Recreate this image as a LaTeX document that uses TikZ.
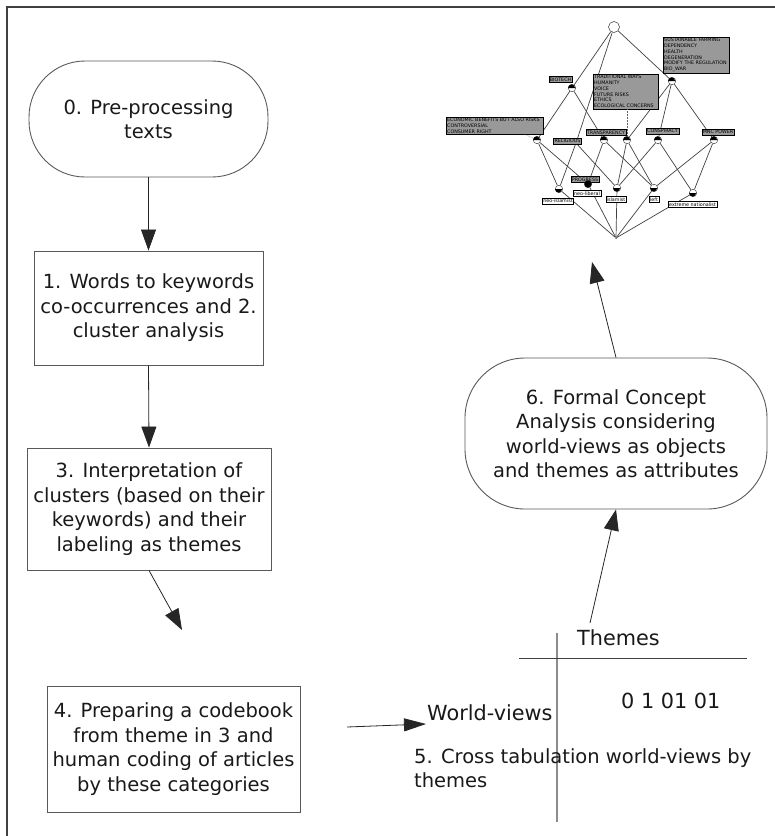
\documentclass[tikz,border=0pt]{standalone}
\usepackage{fontspec}
\setmainfont{DejaVu Sans}
\usetikzlibrary{arrows.meta}
\pgfdeclarelayer{back}
\pgfsetlayers{back,main}

\begin{document}
\begin{tikzpicture}[x=1pt,y=-1pt,
    flow/.style={draw=black!65, line width=0.9pt, align=center, inner sep=0pt, text=black!90,
      font=\fontsize{19.5}{24.5}\selectfont},
    tbl/.style={inner sep=0pt, align=left, text=black!90, font=\fontsize{20.8}{23.5}\selectfont},
    flowarrow/.style={draw=black!85, line width=0.8pt, -{Triangle[length=21pt,width=15pt]}},
    att/.style={draw=black, line width=0.4pt, fill=black!40, inner sep=1pt, font=\fontsize{4.8}{5.8}\selectfont},
    obj/.style={draw=black, line width=0.4pt, fill=white, inner sep=1pt, font=\fontsize{4.8}{5.8}\selectfont},
    topnode/.style={circle, draw=black!80, line width=0.5pt, fill=white, minimum size=11pt, inner sep=0pt},
    latnode/.style={circle, draw=black!80, line width=0.4pt, fill=white, minimum size=7.5pt, inner sep=0pt},
    bothnode/.style={latnode, fill=black},
    lat/.style={draw=black!75, line width=0.7pt},
    dotline/.style={densely dotted, draw=black!60, line width=0.5pt}]
  \useasboundingbox (0,0) rectangle (775,836);
  \draw[black!75, line width=1.4pt] (7,836) -- (7,7) -- (775,7);

  % steps
  \node[flow, rounded corners=56pt, minimum width=239pt, minimum height=116pt] (pre) at (148.5,119) {0. Pre-processing\\texts};
  \node[flow, minimum width=229pt, minimum height=114pt] (words) at (148.5,308) {1. Words to keywords\\co-occurrences and 2.\\cluster analysis};
  \node[flow, minimum width=244pt, minimum height=122pt] (interp) at (149,509) {3. Interpretation of\\clusters (based on their\\keywords) and their\\labeling as themes};
  \node[flow, minimum width=253pt, minimum height=126pt] (codebook) at (173.5,749) {4. Preparing a codebook\\from theme in 3 and\\human coding of articles\\by these categories};
  \node[flow, rounded corners=60pt, minimum width=302pt, minimum height=151pt] (fca) at (616,433.5) {6. Formal Concept\\Analysis considering\\world-views as objects\\and themes as attributes};

  % cross table
  \draw[black!45, line width=1.3pt] (557,633) -- (557,822);
  \draw[black!75, line width=1pt] (519,658) -- (747,658);
  \node[tbl, anchor=base west] (themes) at (577,645) {Themes};
  \node[tbl, anchor=base west] (bits) at (621,708) {0 1 01 01};
  \node[tbl, anchor=base west] (views) at (427,720) {World-views};
  \node[tbl, anchor=north west, font=\fontsize{19.5}{23.5}\selectfont] (cross) at (414,748.5) {5. Cross tabulation world-views by\\themes};

  \coordinate (gap) at (182,630);
  \coordinate (from4) at (347,727);
  \coordinate (to5) at (426,724);
  \coordinate (from5) at (590,623);
  \coordinate (lattice) at (592,262);
  \draw[flowarrow] (pre) -- (words);
  \draw[flowarrow] (words.south) -- (interp.north);
  \draw[flowarrow] (interp.south) -- (gap);
  \draw[flowarrow, -{Triangle[length=22pt,width=13pt]}] (from4) -- (to5);
  \draw[flowarrow] (from5) -- (fca.south);
  \draw[flowarrow] (fca.north) -- (lattice);

  % concept lattice
  \node[att, anchor=north west, text width=95pt, align=left] (econlab) at (446,117) {ECONOMIC BENEFITS BUT ALSO RISKS\\CONTROVERSIAL\\CONSUMER RIGHT};
  \node[att, anchor=north west, text width=64pt, align=left] (sustainlab) at (663,37) {SUSTAINABLE FARMING\\DEPENDENCY\\HEALTH\\DEGENERATION\\MODIFY THE REGULATION\\BIO\_WAR};
  \node[att, anchor=north west, text width=63pt, align=left] (traditlab) at (593,74) {TRADITIONAL WAYS\\HUMANITY\\VOICE\\FUTURE RISKS\\ETHICS\\ECOLOGICAL CONCERNS};
  \node[att] (biotechlab) at (560.5,79.5) {BIOTECH};
  \node[att] (religlab) at (567.5,141) {RELIGIOUS};
  \node[att] (transplab) at (606,132.5) {TRANSPARENCY};
  \node[att] (consplab) at (662.5,131) {CONSPIRACY};
  \node[att] (mnclab) at (718,132) {MNC POWER};
  \node[att] (proglab) at (585,179.5) {PROGRESS};
  \node[obj] (neoisllab) at (558,201) {neo-islamist};
  \node[obj] (neoliblab) at (587,193.5) {neo-liberal};
  \node[obj] (islamlab) at (616,199.5) {islamist};
  \node[obj] (leftlab) at (654,199.5) {left};
  \node[obj] (extnatlab) at (692.5,204.5) {extreme nationalist};

  \node[topnode] (all) at (614,27) {};
  \node[latnode] (biotech) at (572,88) {};
  \node[latnode] (sustain) at (672,81) {};
  \node[latnode] (econ) at (537,140) {};
  \coordinate (relig) at (576,143);
  \node[latnode] (transp) at (604,140) {};
  \node[latnode] (tradit) at (627,140) {};
  \node[latnode] (consp) at (658,140) {};
  \node[latnode] (mnc) at (714,140) {};
  \node[latnode] (neoisl) at (559,189) {};
  \node[bothnode] (neolib) at (588,184) {};
  \node[latnode] (islam) at (617,188) {};
  \node[latnode] (leftw) at (654,188) {};
  \node[latnode] (extnat) at (693,193) {};
  \node[circle, fill=black!70, inner sep=0pt, minimum size=2pt] (none) at (616,238) {};
  % black upper half for attributes, lower half for objects
  \foreach \n in {biotech, sustain, econ, transp, tradit, consp, mnc}
    \fill (\n.west) arc[start angle=180, end angle=0, radius=3.55pt] -- cycle;
  \foreach \n in {neoisl, islam, leftw, extnat}
    \fill (\n.west) arc[start angle=180, end angle=360, radius=3.55pt] -- cycle;

  \begin{pgfonlayer}{back}
    \foreach \a/\b in {all/biotech, all/relig, all/sustain, biotech/econ, biotech/transp,
        sustain/tradit, sustain/consp, sustain/mnc, econ/neoisl, econ/neolib,
        relig/neoisl, relig/islam, transp/neolib, transp/leftw, tradit/islam, tradit/leftw,
        consp/islam, consp/extnat, mnc/leftw, mnc/extnat,
        neoisl/none, neolib/none, islam/none, leftw/none, extnat/none}
      \draw[lat] (\a) -- (\b);
  \end{pgfonlayer}
  \draw[dotline] (traditlab.south -| tradit) -- (tradit);
  \draw[dotline] ([xshift=-18pt]econlab.south east) -- (econ);
\end{tikzpicture}
\end{document}
